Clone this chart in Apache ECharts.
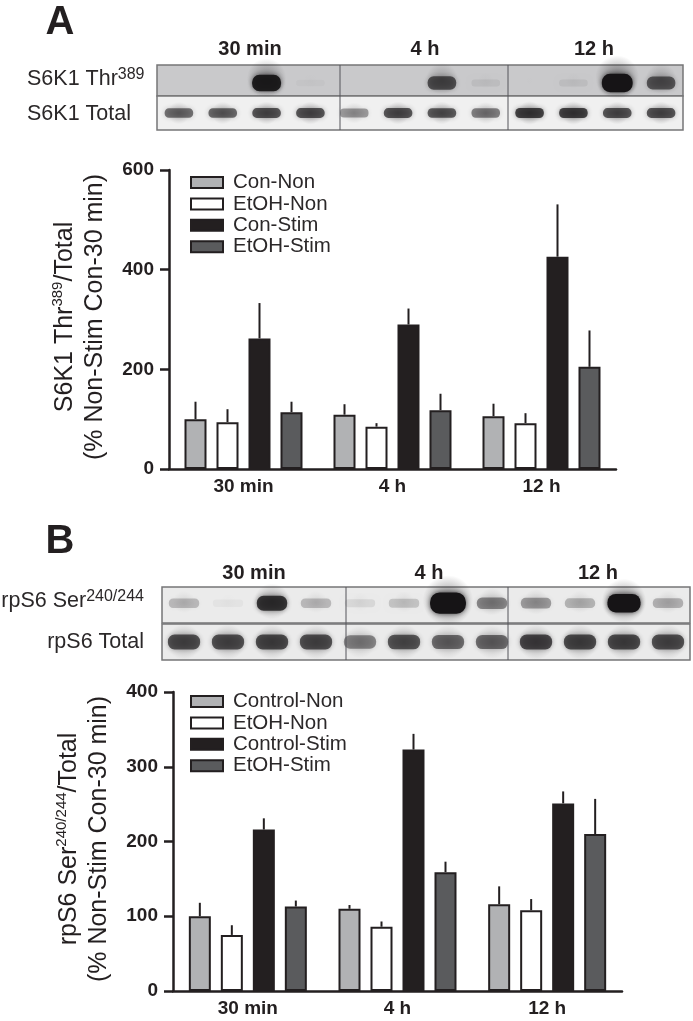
<!DOCTYPE html>
<html><head><meta charset="utf-8">
<style>html,body{margin:0;padding:0;background:#fff}#c{width:693px;height:1021px}</style>
<script src="https://cdn.jsdelivr.net/npm/echarts@6/dist/echarts.min.js"></script>
</head><body><div id="c"></div>
<script>
const timepoints = ['30 min', '4 h', '12 h'];
const namesA = ['Con-Non', 'EtOH-Non', 'Con-Stim', 'EtOH-Stim'];
const namesB = ['Control-Non', 'EtOH-Non', 'Control-Stim', 'EtOH-Stim'];
// each array: 30 min, 4 h, 12 h
const a1 = [100, 109, 106], a1Top = [135, 130, 131];
const a2 = [94, 85, 92],    a2Top = [120, 92, 112];
const a3 = [262, 290, 426], a3Top = [333, 322, 531];
const a4 = [114, 118, 205], a4Top = [135, 151, 278];
const b1 = [100, 110, 116], b1Top = [118, 115, 140];
const b2 = [75, 86, 108],   b2Top = [88, 93, 123];
const b3 = [216, 323, 251], b3Top = [231, 344, 267];
const b4 = [113, 159, 210], b4Top = [121, 173, 257];
// blot band darkness per lane
const lanes = ['1','2','3','4','5','6','7','8','9','10','11','12'];
const blotAphos  = [0, 0, 1.05, 0.03, 0, 0, 0.72, 0.07, 0.01, 0.07, 1.25, 0.68];
const blotAtotal = [0.62, 0.66, 0.75, 0.75, 0.42, 0.75, 0.72, 0.55, 0.85, 0.85, 0.75, 0.75];
const blotBphos  = [0.25, 0.04, 0.9, 0.25, 0.1, 0.2, 1.6, 0.5, 0.4, 0.28, 1.3, 0.3];
const blotBtotal = [0.75, 0.75, 0.78, 0.75, 0.5, 0.72, 0.62, 0.62, 0.8, 0.78, 0.78, 0.75];

const ink = '#231f20', font = '"Liberation Sans", Arial, sans-serif';
const fills = ['#b1b2b4', '#ffffff', '#231f20', '#5a5b5d'];
const step = 32;

function barSeries(names, vals, axis) {
  return names.map((n, i) => ({
    type: 'bar', name: n, data: vals[i], xAxisIndex: axis, yAxisIndex: axis,
    barWidth: 22, barGap: '45.45%', z: 3,
    itemStyle: { color: fills[i], borderColor: ink, borderWidth: 2 }
  }));
}
function errSeries(vals, tops, axis) {
  return vals.map((v, s) => ({
    type: 'custom', xAxisIndex: axis, yAxisIndex: axis, z: 2, silent: true,
    data: v.map((y, k) => [k, y, tops[s][k]]),
    encode: { x: 0, y: [1, 2] },
    renderItem(p, api) {
      const a = api.coord([api.value(0), api.value(1)]);
      const b = api.coord([api.value(0), api.value(2)]);
      const dx = (s - 1.5) * step;
      return { type: 'line', shape: { x1: a[0] + dx, y1: a[1], x2: b[0] + dx, y2: b[1] },
               style: { stroke: ink, lineWidth: 2 } };
    }
  }));
}
function blot(values, axis, cfg) {
  return {
    type: 'custom', xAxisIndex: axis, yAxisIndex: axis, z: 3, silent: true,
    data: values.map((v, i) => [i, v]),
    encode: { x: 0 },
    renderItem(p, api) {
      const d = api.value(1);
      const c = api.coord([api.value(0), cfg.y]);
      const core = Math.min(1, d * 0.88);
      const halo = o => new echarts.graphic.RadialGradient(0.5, 0.5, 0.5, [
        { offset: 0, color: `rgba(22,20,22,${o})` },
        { offset: 1, color: 'rgba(22,20,22,0)' }]);
      const w = cfg.w + Math.max(0, d - 1) * 10, h = cfg.h + d * cfg.grow;
      const els = [];
      els.push({ type: 'ellipse', shape: { cx: c[0], cy: c[1] - h * cfg.lift, rx: w * 0.68, ry: h * 0.95 },
                 style: { fill: halo(Math.min(0.5, d * 0.35)) } });
      if (d > 0.02) els.push({ type: 'rect',
        shape: { x: c[0] - w * 0.46, y: c[1] - h * 0.4, width: w * 0.92, height: h * 0.8, r: h * 0.36 },
        style: { fill: `rgba(22,20,22,${core})`, shadowBlur: 5, shadowColor: `rgba(22,20,22,${core * 0.7})` } });
      return { type: 'group', children: els };
    }
  };
}
const tickLabel = { color: ink, fontFamily: font, fontWeight: 'bold', fontSize: 19 };
function xAx(i) {
  return { type: 'category', gridIndex: i, data: timepoints,
    axisLine: { lineStyle: { color: ink, width: 2.5 } }, axisTick: { show: false },
    axisLabel: { ...tickLabel, margin: 8 } };
}
const nameRich = { a: { fontSize: 25, fontFamily: font, color: ink, lineHeight: 30 },
                   s: { fontSize: 15, fontFamily: font, color: ink, verticalAlign: 'top', lineHeight: 30 } };
function yAx(i, max, interval, name) {
  return { type: 'value', gridIndex: i, min: 0, max, interval, splitLine: { show: false },
    axisLine: { show: true, lineStyle: { color: ink, width: 2.5 } },
    axisTick: { show: true, length: 9, lineStyle: { color: ink, width: 2.5 } },
    axisLabel: { ...tickLabel, margin: 15 },
    name, nameLocation: 'middle', nameRotate: 90, nameGap: 49, nameTextStyle: { rich: nameRich, padding: [0, 0, 10, 5] } };
}
function legend(data, top) {
  return { orient: 'vertical', left: 190, top, padding: 0, data, selectedMode: false, icon: 'rect',
    itemWidth: 32, itemHeight: 11, itemGap: 0.4,
    textStyle: { fontFamily: font, fontSize: 20.5, color: '#2b2829', lineHeight: 14, padding: [0, 0, 0, 5] } };
}
function panelGrid(left, right, top, bottom, bg) {
  return { left, width: right - left, top, height: bottom - top, show: true, backgroundColor: bg,
           borderColor: '#757577', borderWidth: 1.5 };
}
const hidX = i => ({ type: 'category', gridIndex: i, data: lanes, show: false });
const hidY = i => ({ type: 'value', gridIndex: i, min: 0, max: 1, show: false });

const txt = (x, y, text, o = {}) => ({ type: 'text', x, y, z: 10, silent: true,
  style: { text, fill: ink, font: `${o.bold ? 'bold ' : ''}${o.size || 22}px ${font}`,
    textAlign: o.align || 'center', textVerticalAlign: 'middle', rich: o.rich } });
const divider = (x, y1, y2) => ({ type: 'line', z: 10, silent: true,
  shape: { x1: x, y1, x2: x, y2 }, style: { stroke: '#55555a', lineWidth: 1 } });
const blotRich = { a: { fontSize: 21.5, fontFamily: font, fill: '#2b2829', color: '#2b2829', lineHeight: 24 },
                   s: { fontSize: 16, fontFamily: font, fill: '#2b2829', color: '#2b2829', verticalAlign: 'top', lineHeight: 24 } };

const chart = echarts.init(document.getElementById('c'), null, { renderer: 'canvas' });
chart.setOption({
  animation: false, backgroundColor: '#fff',
  grid: [
    { left: 169, width: 447, top: 170, height: 299 },
    { left: 173, width: 449, top: 692, height: 299 },
    panelGrid(157, 683, 65, 96, '#c9c9cb'),
    panelGrid(157, 683, 96, 130, '#f0f0f0'),
    panelGrid(162, 690, 587, 623, '#ebebeb'),
    panelGrid(162, 690, 624, 660, '#ebebeb')
  ],
  xAxis: [xAx(0), xAx(1), hidX(2), hidX(3), hidX(4), hidX(5)],
  yAxis: [
    yAx(0, 600, 200, '{a|S6K1 Thr}{s|389}{a|/Total}\n{a|(% Non-Stim Con-30 min)}'),
    yAx(1, 400, 100, '{a|rpS6 Ser}{s|240/244}{a|/Total}\n{a|(% Non-Stim Con-30 min)}'),
    hidY(2), hidY(3), hidY(4), hidY(5)
  ],
  legend: [legend(namesA, 172), legend(namesB, 691)],
  series: [
    ...barSeries(namesA, [a1, a2, a3, a4], 0),
    ...errSeries([a1, a2, a3, a4], [a1Top, a2Top, a3Top, a4Top], 0),
    ...barSeries(namesB, [b1, b2, b3, b4], 1),
    ...errSeries([b1, b2, b3, b4], [b1Top, b2Top, b3Top, b4Top], 1),
    blot(blotAphos, 2, { y: 0.42, w: 31, h: 8, grow: 12, lift: 0.25 }),
    blot(blotAtotal, 3, { y: 0.5, w: 31, h: 10, grow: 3, lift: 0 }),
    blot(blotBphos, 4, { y: 0.55, w: 33, h: 9, grow: 11, lift: 0.1 }),
    blot(blotBtotal, 5, { y: 0.5, w: 35, h: 14, grow: 6, lift: 0 })
  ],
  graphic: [
    txt(60, 23, 'A', { bold: true, size: 40 }),
    txt(60, 542, 'B', { bold: true, size: 40 }),
    txt(250, 49, timepoints[0], { bold: true, size: 20 }),
    txt(425, 49, timepoints[1], { bold: true, size: 20 }),
    txt(594, 49, timepoints[2], { bold: true, size: 20 }),
    txt(254, 573, timepoints[0], { bold: true, size: 20 }),
    txt(429, 573, timepoints[1], { bold: true, size: 20 }),
    txt(598, 573, timepoints[2], { bold: true, size: 20 }),
    txt(27, 79, '{a|S6K1 Thr}{s|389}', { align: 'left', rich: blotRich }),
    txt(27, 114, '{a|S6K1 Total}', { align: 'left', rich: blotRich }),
    txt(144, 601, '{a|rpS6 Ser}{s|240/244}', { align: 'right', rich: blotRich }),
    txt(144, 642, '{a|rpS6 Total}', { align: 'right', rich: blotRich }),
    divider(340, 65, 130), divider(508, 65, 130),
    divider(346, 587, 660), divider(508, 587, 660)
  ]
});
</script></body></html>
